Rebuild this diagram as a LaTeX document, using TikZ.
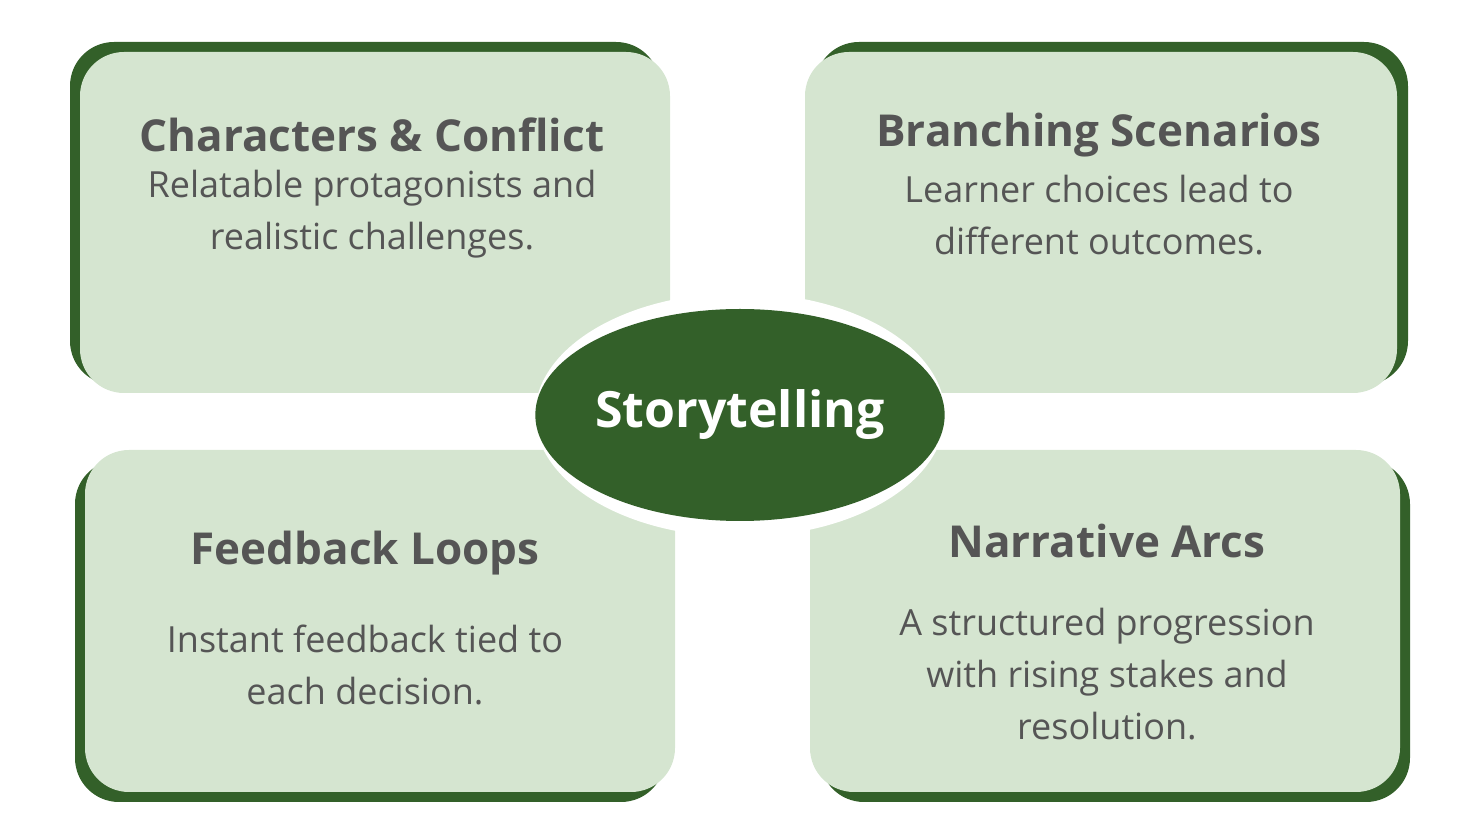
\documentclass[tikz,border=0pt]{standalone}
\usepackage{fontspec}
\setmainfont{Open Sans}
\usetikzlibrary{positioning,shapes.geometric}
\definecolor{leaf}{HTML}{336029}
\definecolor{mint}{HTML}{D5E5D0}
\definecolor{ink}{HTML}{555555}
\tikzset{
  shade box/.style={fill=leaf, rounded corners=22pt},
  card/.style={fill=mint, rounded corners=22pt},
  title/.style={text=ink, font=\bfseries\fontsize{22}{26}\selectfont},
  body/.style={text=ink, align=center, font=\fontsize{18}{26}\selectfont}
}
\begin{document}
\begin{tikzpicture}[x=0.5pt,y=-0.5pt]
  \useasboundingbox (0,0) rectangle (1480,833);
  % cards with their dark edges
  \fill[shade box] (70,42) rectangle (660,385);
  \fill[card] (80,52) rectangle (670,393);
  \fill[shade box] (815,42) rectangle (1408,385);
  \fill[card] (805,52) rectangle (1397,393);
  \fill[shade box] (75,460) rectangle (665,802);
  \fill[card] (85,450) rectangle (675,792);
  \fill[shade box] (820,460) rectangle (1410,802);
  \fill[card] (810,450) rectangle (1400,792);
  % centre
  \fill[white] (740,415) ellipse [x radius=205, y radius=122];
  \node[fill=leaf, ellipse, minimum width=175pt, minimum height=106pt, inner sep=0,
        text=white, font=\bfseries\fontsize{25}{30}\selectfont] (hub) at (740,415) {Storytelling};
  % texts
  \node[title] (cc) at (372,135) {Characters \& Conflict};
  \node[body, below=2pt of cc] (ccTxt) {Relatable protagonists and\\realistic challenges.};
  \node[title] (bs) at (1099,135) {Branching Scenarios};
  \node[body, below=2pt of bs] (bsTxt) {Learner choices lead to\\different outcomes.};
  \node[title] (fl) at (365,553) {Feedback Loops};
  \node[body, below=18pt of fl] (flTxt) {Instant feedback tied to\\each decision.};
  \node[title] (na) at (1107,541) {Narrative Arcs};
  \node[body, below=18pt of na] (naTxt) {A structured progression\\with rising stakes and\\resolution.};
\end{tikzpicture}
\end{document}
